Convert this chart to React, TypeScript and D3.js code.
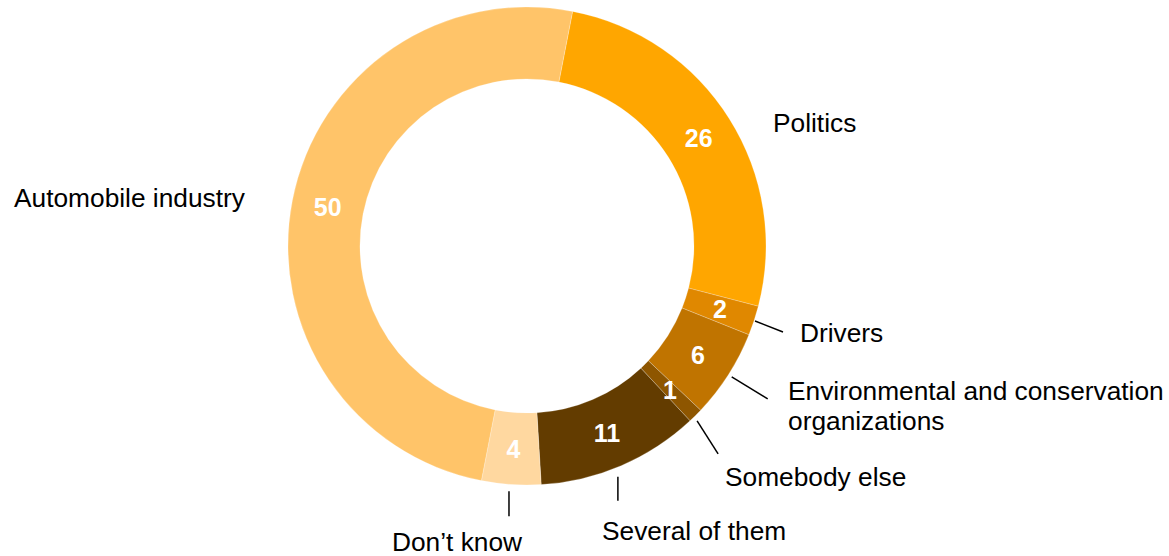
import React from "react";
import * as d3 from "d3";

const categories = [
  "Politics",
  "Drivers",
  "Environmental and conservation organizations",
  "Somebody else",
  "Several of them",
  "Don’t know",
  "Automobile industry",
];
const values = [26, 2, 6, 1, 11, 4, 50];
const colors = ["#FFA600", "#E08800", "#C07400", "#8E5600", "#633C00", "#FFD8A0", "#FFC469"];

// label layout: text lines, position, and leader line (radius start, angle shift deg, dx, dy)
const labelLayout = [
  { lines: ["Politics"], x: 773, y: 132, leader: null },
  { lines: ["Drivers"], x: 800, y: 342, leader: { r: 240, shift: 0, dx: 28, dy: 11 } },
  { lines: ["Environmental and conservation", "organizations"], x: 788, y: 400, leader: { r: 243, shift: 0, dx: 36, dy: 22 } },
  { lines: ["Somebody else"], x: 725, y: 486, leader: { r: 244, shift: 0.6, dx: 21, dy: 33 } },
  { lines: ["Several of them"], x: 602, y: 540, leader: { r: 248, shift: 1.7, dx: 0, dy: 24 } },
  { lines: ["Don’t know"], x: 392, y: 551, leader: { r: 246, shift: 0.4, dx: 0, dy: 25 } },
  { lines: ["Automobile industry"], x: 14, y: 207, leader: null },
];

const W = 1169;
const H = 556;
const cx = 527;
const cy = 246;
const outerR = 239;
const innerR = 167;
const startDeg = 11;

export default function App() {
  const start = (startDeg * Math.PI) / 180;
  const pie = d3
    .pie<number>()
    .sort(null)
    .value((d) => d)
    .startAngle(start)
    .endAngle(start + 2 * Math.PI);
  const arcs = pie(values);
  const arc = d3.arc<d3.PieArcDatum<number>>().innerRadius(innerR).outerRadius(outerR);
  const font = "Arial, 'Liberation Sans', sans-serif";

  return (
    <svg
      width={W}
      height={H}
      style={{ position: "absolute", left: 0, top: 0, display: "block" }}
      fontFamily={font}
    >
      <rect width={W} height={H} fill="#ffffff" />
      <g transform={`translate(${cx},${cy})`}>
        {arcs.map((a, i) => (
          <path key={i} d={arc(a) || ""} fill={colors[i]} stroke="#ffffff" strokeWidth={0.4} strokeOpacity={0.6} />
        ))}
        {arcs.map((a, i) => {
          const [x, y] = arc.centroid(a);
          return (
            <text
              key={"v" + i}
              x={x}
              y={y}
              textAnchor="middle"
              dominantBaseline="central"
              fill="#ffffff"
              fontWeight="bold"
              fontSize={25}
            >
              {values[i]}
            </text>
          );
        })}
        {arcs.map((a, i) => {
          const L = labelLayout[i].leader;
          if (!L) return null;
          const mid = (a.startAngle + a.endAngle) / 2 + (L.shift * Math.PI) / 180;
          const x0 = L.r * Math.sin(mid);
          const y0 = -L.r * Math.cos(mid);
          return (
            <line
              key={"l" + i}
              x1={x0}
              y1={y0}
              x2={x0 + L.dx}
              y2={y0 + L.dy}
              stroke="#000000"
              strokeWidth={1.5}
            />
          );
        })}
      </g>
      {labelLayout.map((l, i) => (
        <text key={"t" + i} x={l.x} y={l.y} fontSize={26.3} fill="#000000">
          {l.lines.map((s, j) => (
            <tspan key={j} x={l.x} dy={j === 0 ? 0 : 30}>
              {s}
            </tspan>
          ))}
        </text>
      ))}
    </svg>
  );
}
